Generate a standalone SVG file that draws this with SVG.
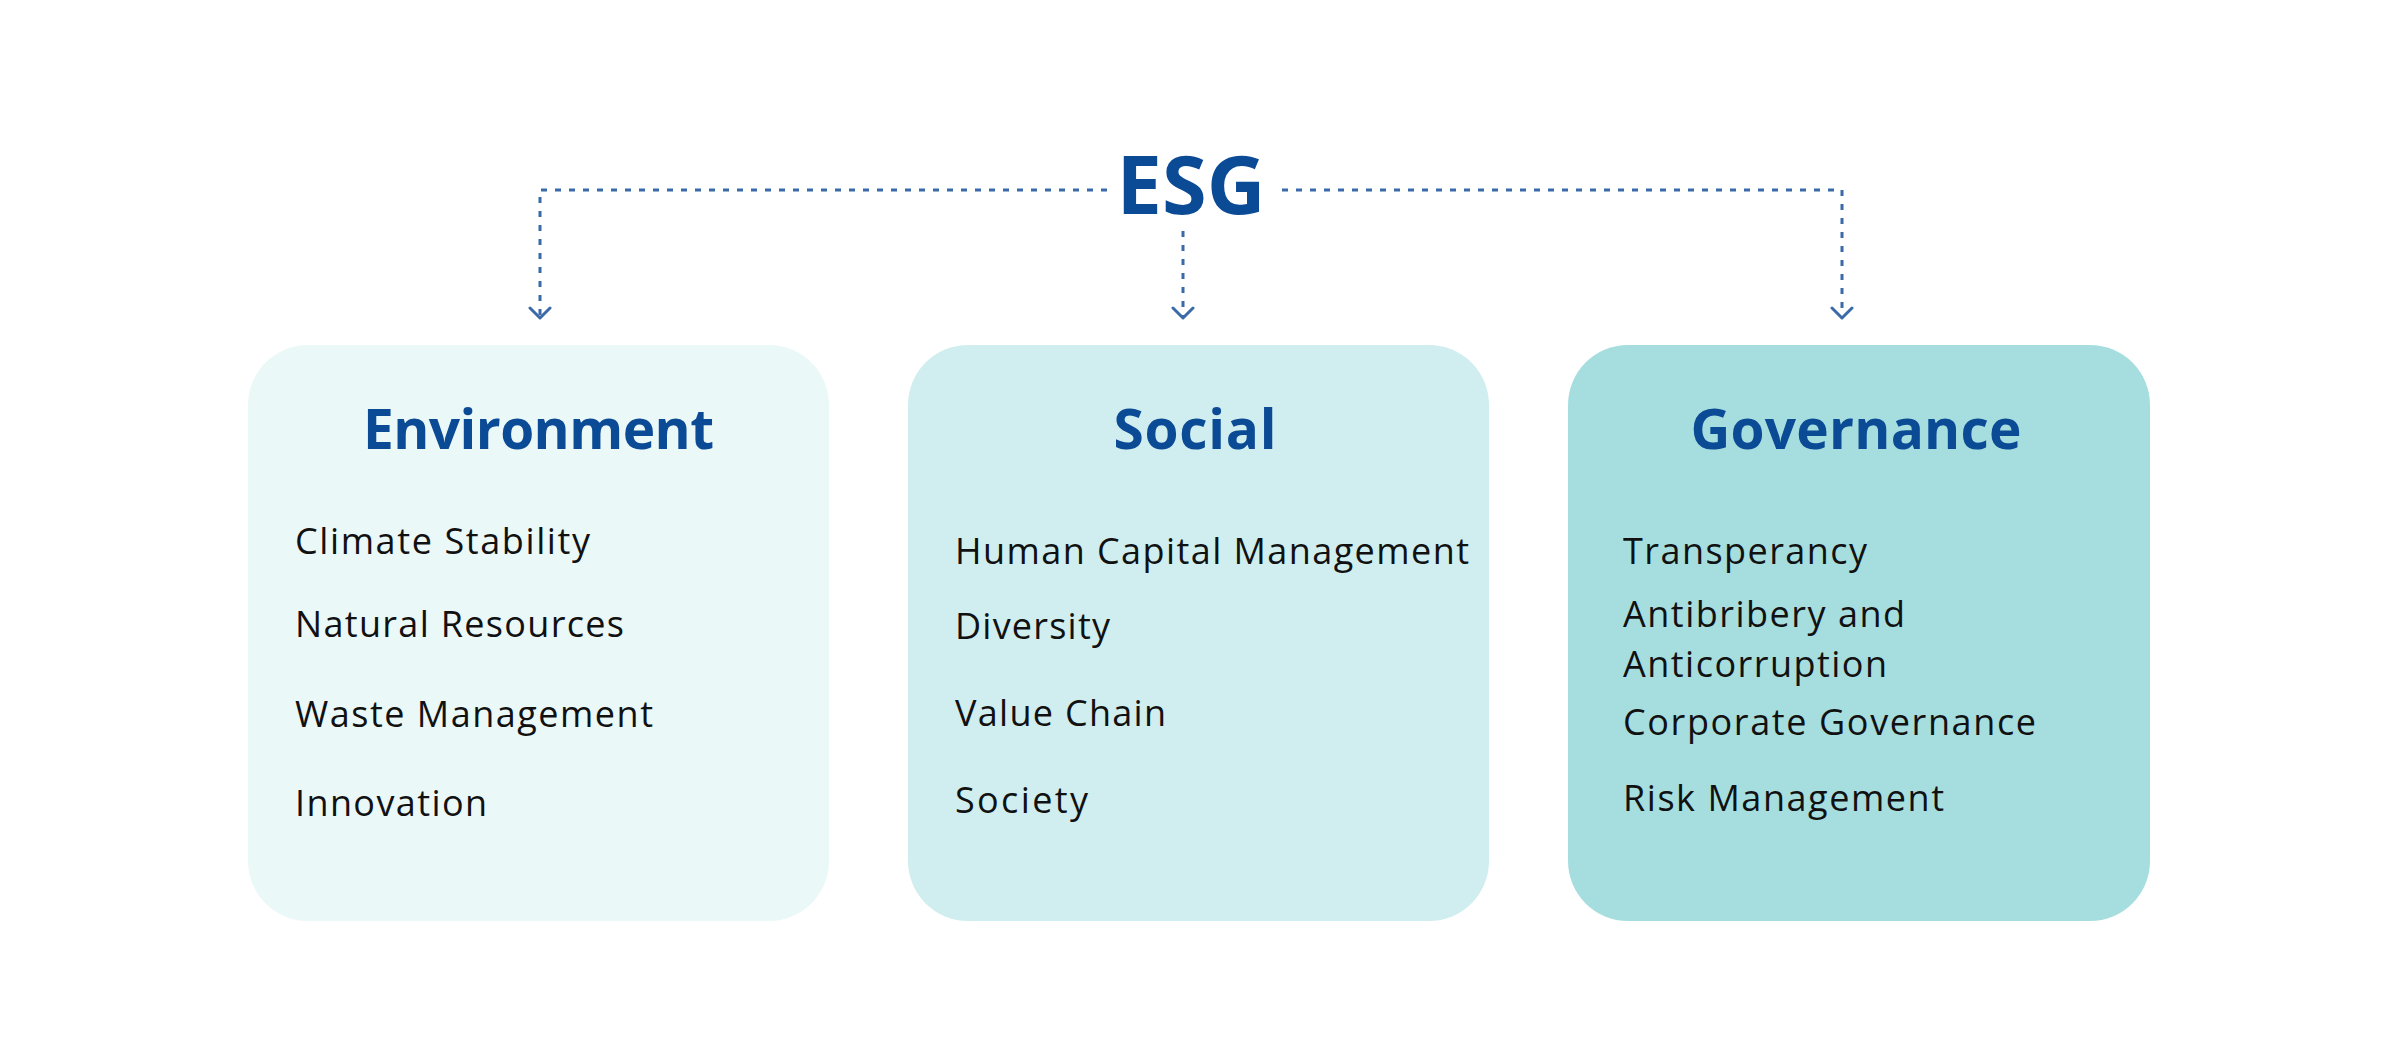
<svg xmlns="http://www.w3.org/2000/svg" width="2400" height="1050" viewBox="0 0 2400 1050">
  <style>
    .title { font-family: "Open Sans", "Liberation Sans", sans-serif; font-weight: 700; fill: #0b4a95; }
    .item { font-family: "Open Sans", "Liberation Sans", sans-serif; font-weight: 500; font-size: 36px; fill: #111111; }
    .conn { fill: none; stroke: #3b6aa8; stroke-width: 3; stroke-dasharray: 6 8; }
    .head { fill: none; stroke: #3b6aa8; stroke-width: 3; stroke-linecap: round; stroke-linejoin: round; }
  </style>
  <defs>
    <marker id="chev" viewBox="0 0 24 14" refX="12" refY="12" markerWidth="24" markerHeight="14" markerUnits="userSpaceOnUse" orient="0">
      <path class="head" d="M2,2 L12,12 L22,2"/>
    </marker>
  </defs>
  <rect width="2400" height="1050" fill="#ffffff"/>

  <g id="esg">
    <text class="title" x="1191" y="214" font-size="81" text-anchor="middle" textLength="149" lengthAdjust="spacingAndGlyphs">ESG</text>
  </g>

  <g id="connectors">
    <path class="conn" d="M1107,190 L540,190 L540,318" marker-end="url(#chev)"/>
    <path class="conn" d="M1282,190 L1842,190 L1842,318" marker-end="url(#chev)"/>
    <path class="conn" d="M1183,231 L1183,318" marker-end="url(#chev)"/>
  </g>

  <g id="environment">
    <rect x="248" y="345" width="581" height="576" rx="60" fill="#ebf8f8"/>
    <text class="title" x="538.5" y="449" font-size="55" text-anchor="middle" textLength="351">Environment</text>
    <text class="item" x="295" y="554" textLength="295">Climate Stability</text>
    <text class="item" x="295" y="637" textLength="329">Natural Resources</text>
    <text class="item" x="295" y="727" textLength="358">Waste Management</text>
    <text class="item" x="295" y="816" textLength="192">Innovation</text>
  </g>

  <g id="social">
    <rect x="908" y="345" width="581" height="576" rx="60" fill="#d0eeef"/>
    <text class="title" x="1195" y="449" font-size="55" text-anchor="middle" textLength="163">Social</text>
    <text class="item" x="955" y="564" textLength="514">Human Capital Management</text>
    <text class="item" x="955" y="639" textLength="155">Diversity</text>
    <text class="item" x="955" y="726" textLength="211">Value Chain</text>
    <text class="item" x="955" y="813" textLength="133">Society</text>
  </g>

  <g id="governance">
    <rect x="1568" y="345" width="582" height="576" rx="60" fill="#a6dedf"/>
    <text class="title" x="1856" y="449" font-size="55" text-anchor="middle" textLength="331">Governance</text>
    <text class="item" x="1623" y="564" textLength="244">Transperancy</text>
    <text class="item" x="1623" y="627" textLength="282">Antibribery and</text>
    <text class="item" x="1623" y="677" textLength="264">Anticorruption</text>
    <text class="item" x="1623" y="735" textLength="413">Corporate Governance</text>
    <text class="item" x="1623" y="811" textLength="321">Risk Management</text>
  </g>
</svg>
